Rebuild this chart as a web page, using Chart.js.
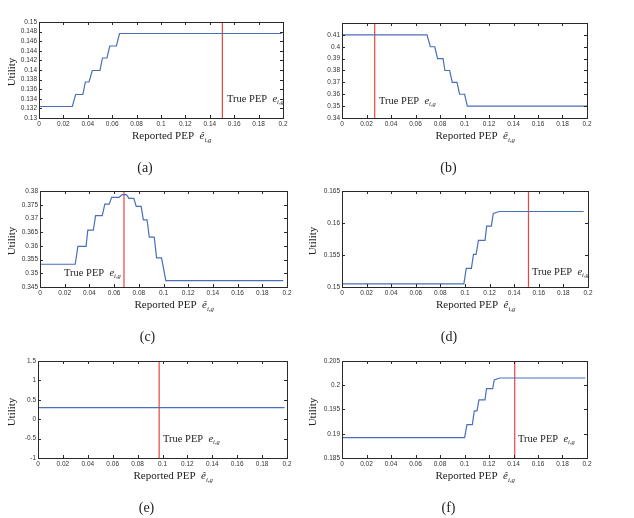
<!DOCTYPE html>
<html lang="en">
<head>
  <meta charset="UTF-8">
  <title>Utility vs Reported PEP</title>
  <script src="https://cdn.jsdelivr.net/npm/chart.js"></script>
  <style>
    body {
      margin: 0;
      background: #fff;
      width: 634px;
      height: 518px;
      position: relative;
      overflow: hidden;
      font-family: "Liberation Serif", serif;
      color: #222;
    }
    canvas, .txt { position: absolute; }
    .txt { white-space: nowrap; line-height: 1; }
    .ylab { font-size: 11px; transform: translate(-50%, -50%) rotate(-90deg); }
    .xlab { font-size: 11px; transform: translateY(-50%); }
    .cap { font-size: 14px; transform: translate(-50%, -50%); }
    .pep { font-size: 10.5px; transform: translateY(-50%); }
    sub { font-size: 0.62em; vertical-align: -0.35em; font-style: italic; }
  </style>
</head>
<body>
  <canvas id="pa"></canvas>
  <canvas id="pb"></canvas>
  <canvas id="pc"></canvas>
  <canvas id="pd"></canvas>
  <canvas id="pe"></canvas>
  <canvas id="pf"></canvas>

  <script>
    // x axis (reported PEP) shared by all panels
    const xTicks = [0, 0.02, 0.04, 0.06, 0.08, 0.1, 0.12, 0.14, 0.16, 0.18, 0.2];

    // (a)
    const aX = [0, 0.0273, 0.030, 0.036, 0.038, 0.041, 0.0437, 0.050, 0.052, 0.0557, 0.058, 0.0634, 0.066, 0.199];
    const aY = [0.1324, 0.1324, 0.1349, 0.1349, 0.1375, 0.1375, 0.1399, 0.1399, 0.1425, 0.1425, 0.145, 0.145, 0.1476, 0.1476];
    const aTicks = [0.13, 0.132, 0.134, 0.136, 0.138, 0.14, 0.142, 0.144, 0.146, 0.148, 0.15];

    // (b)
    const bX = [0, 0.0694, 0.0721, 0.0757, 0.078, 0.0825, 0.084, 0.0879, 0.090, 0.0939, 0.096, 0.1001, 0.1023, 0.2];
    const bY = [0.41, 0.41, 0.40, 0.40, 0.39, 0.39, 0.38, 0.38, 0.37, 0.37, 0.36, 0.36, 0.35, 0.35];
    const bTicks = [0.34, 0.35, 0.36, 0.37, 0.38, 0.39, 0.4, 0.41];

    // (c)
    const cX = [0, 0.0285, 0.0307, 0.0373, 0.0387, 0.0432, 0.045, 0.0504, 0.0525, 0.056, 0.058, 0.064, 0.0667,
                0.070, 0.072, 0.076, 0.0779, 0.0819, 0.0837, 0.0867, 0.0885, 0.0925, 0.0944, 0.0984, 0.1019, 0.197];
    const cY = [0.3533, 0.3533, 0.3598, 0.3598, 0.3657, 0.3657, 0.371, 0.371, 0.3752, 0.3752, 0.3777, 0.3777, 0.3787,
                0.3787, 0.3773, 0.3773, 0.3744, 0.3744, 0.3695, 0.3695, 0.3632, 0.3632, 0.3556, 0.3556, 0.3473, 0.3473];
    const cTicks = [0.345, 0.35, 0.355, 0.36, 0.365, 0.37, 0.375, 0.38];

    // (d)
    const dX = [0, 0.0991, 0.101, 0.1052, 0.1069, 0.109, 0.1109, 0.1163, 0.1176, 0.1214, 0.123, 0.128, 0.1965];
    const dY = [0.1505, 0.1505, 0.1529, 0.1529, 0.1551, 0.1551, 0.1573, 0.1573, 0.1595, 0.1595, 0.1615, 0.1618, 0.1618];
    const dTicks = [0.15, 0.155, 0.16, 0.165];

    // (e)
    const eX = [0, 0.198];
    const eY = [0.3, 0.3];
    const eTicks = [-1, -0.5, 0, 0.5, 1, 1.5];

    // (f)
    const fX = [0, 0.1001, 0.102, 0.1064, 0.108, 0.1102, 0.1118, 0.1167, 0.118, 0.123, 0.1243, 0.1287, 0.1986];
    const fY = [0.1892, 0.1892, 0.1919, 0.1919, 0.1947, 0.1947, 0.197, 0.197, 0.1993, 0.1993, 0.2011, 0.2015, 0.2015];
    const fTicks = [0.185, 0.19, 0.195, 0.2, 0.205];

    // true PEP (red vertical line) per panel
    const truePep = [0.1503, 0.0267, 0.068, 0.1516, 0.0973, 0.141];
    const captions = ['(a)', '(b)', '(c)', '(d)', '(e)', '(f)'];

    const BLUE = '#4a6fb8';
    const RED = '#e8453c';
    const YW = 30, PADT = 6, PADR = 8, XH = 12;

    const fmt = v => String(parseFloat(Number(v).toFixed(4)));

    // box + inward tick marks
    const boxPlugin = {
      id: 'box',
      afterDraw(chart) {
        const { ctx, chartArea: a, scales } = chart;
        ctx.save();
        ctx.strokeStyle = '#2a2a2a';
        ctx.lineWidth = 1;
        ctx.beginPath();
        scales.x.ticks.forEach(t => {
          const px = Math.round(scales.x.getPixelForValue(t.value)) + 0.5;
          ctx.moveTo(px, a.bottom); ctx.lineTo(px, a.bottom - 3);
          ctx.moveTo(px, a.top); ctx.lineTo(px, a.top + 3);
        });
        scales.y.ticks.forEach(t => {
          const py = Math.round(scales.y.getPixelForValue(t.value)) + 0.5;
          ctx.moveTo(a.left, py); ctx.lineTo(a.left + 3, py);
          ctx.moveTo(a.right, py); ctx.lineTo(a.right - 3, py);
        });
        ctx.stroke();
        ctx.strokeRect(Math.round(a.left) + 0.5, Math.round(a.top) + 0.5,
                       Math.round(a.right - a.left), Math.round(a.bottom - a.top));
        ctx.restore();
      }
    };

    function panel(id, rect, xs, ys, yTicks, pep, hideTop) {
      const el = document.getElementById(id);
      const [L, T, R, B] = rect;
      el.width = (R - L) + YW + PADR;
      el.height = (B - T) + PADT + XH;
      el.style.left = (L - YW) + 'px';
      el.style.top = (T - PADT) + 'px';
      const yMin = yTicks[0];
      const yMax = hideTop ? yTicks[yTicks.length - 1] + (yTicks[1] - yTicks[0]) : yTicks[yTicks.length - 1];
      const tickFont = { family: 'Liberation Sans', size: 6.5 };

      new Chart(el, {
        type: 'line',
        data: {
          datasets: [
            { data: xs.map((x, i) => ({ x: x, y: ys[i] })), borderColor: BLUE, borderWidth: 1.2, pointRadius: 0, tension: 0 },
            { data: [{ x: pep, y: yMin }, { x: pep, y: yMax }], borderColor: RED, borderWidth: 1.2, pointRadius: 0 }
          ]
        },
        options: {
          responsive: false,
          animation: false,
          events: [],
          layout: { padding: { top: PADT, right: PADR, left: 0, bottom: 0 } },
          plugins: { legend: { display: false }, tooltip: { enabled: false } },
          scales: {
            x: {
              type: 'linear', min: 0, max: 0.2,
              grid: { display: false, drawTicks: false }, border: { display: false },
              afterBuildTicks: s => { s.ticks = xTicks.map(v => ({ value: v })); },
              afterFit: s => { s.height = XH; },
              ticks: { font: tickFont, color: '#333', padding: 2, maxRotation: 0, autoSkip: false, callback: fmt }
            },
            y: {
              type: 'linear', min: yMin, max: yMax,
              grid: { display: false, drawTicks: false }, border: { display: false },
              afterBuildTicks: s => { s.ticks = yTicks.map(v => ({ value: v })); },
              afterFit: s => { s.width = YW; },
              ticks: { font: tickFont, color: '#333', padding: 2, autoSkip: false, callback: fmt }
            }
          }
        },
        plugins: [boxPlugin]
      });
    }

    const rects = [
      [39, 22, 283, 118],
      [342, 23, 587, 118],
      [40, 191, 287, 287],
      [342, 191, 588, 287],
      [38, 361, 287, 458],
      [342, 361, 587, 458]
    ];

    panel('pa', rects[0], aX, aY, aTicks, truePep[0], false);
    panel('pb', rects[1], bX, bY, bTicks, truePep[1], true);
    panel('pc', rects[2], cX, cY, cTicks, truePep[2], false);
    panel('pd', rects[3], dX, dY, dTicks, truePep[3], false);
    panel('pe', rects[4], eX, eY, eTicks, truePep[4], false);
    panel('pf', rects[5], fX, fY, fTicks, truePep[5], false);

    // text overlays
    function addText(cls, html, x, y) {
      const d = document.createElement('div');
      d.className = 'txt ' + cls;
      d.innerHTML = html;
      d.style.left = x + 'px';
      d.style.top = y + 'px';
      document.body.appendChild(d);
    }

    const xTitle = 'Reported PEP&nbsp; <i>ê</i><sub>i,g</sub>';
    const pepText = 'True PEP&nbsp; <i>e</i><sub>i,g</sub>';
    const pepPos = [[227, 100], [379, 102], [64, 274], [532, 273], [163, 440], [518, 440]];
    const utilX = [11, null, 11, 312, 11, 312];

    rects.forEach((r, i) => {
      const [L, T, R, B] = r;
      const cx = (L + R) / 2;
      if (utilX[i] !== null) addText('ylab', 'Utility', utilX[i], (T + B) / 2 + 2);
      addText('xlab', xTitle, cx - 29, B + 19);
      addText('cap', captions[i], cx - 16, B + 50);
      addText('pep', pepText, pepPos[i][0], pepPos[i][1]);
    });
  </script>
</body>
</html>
